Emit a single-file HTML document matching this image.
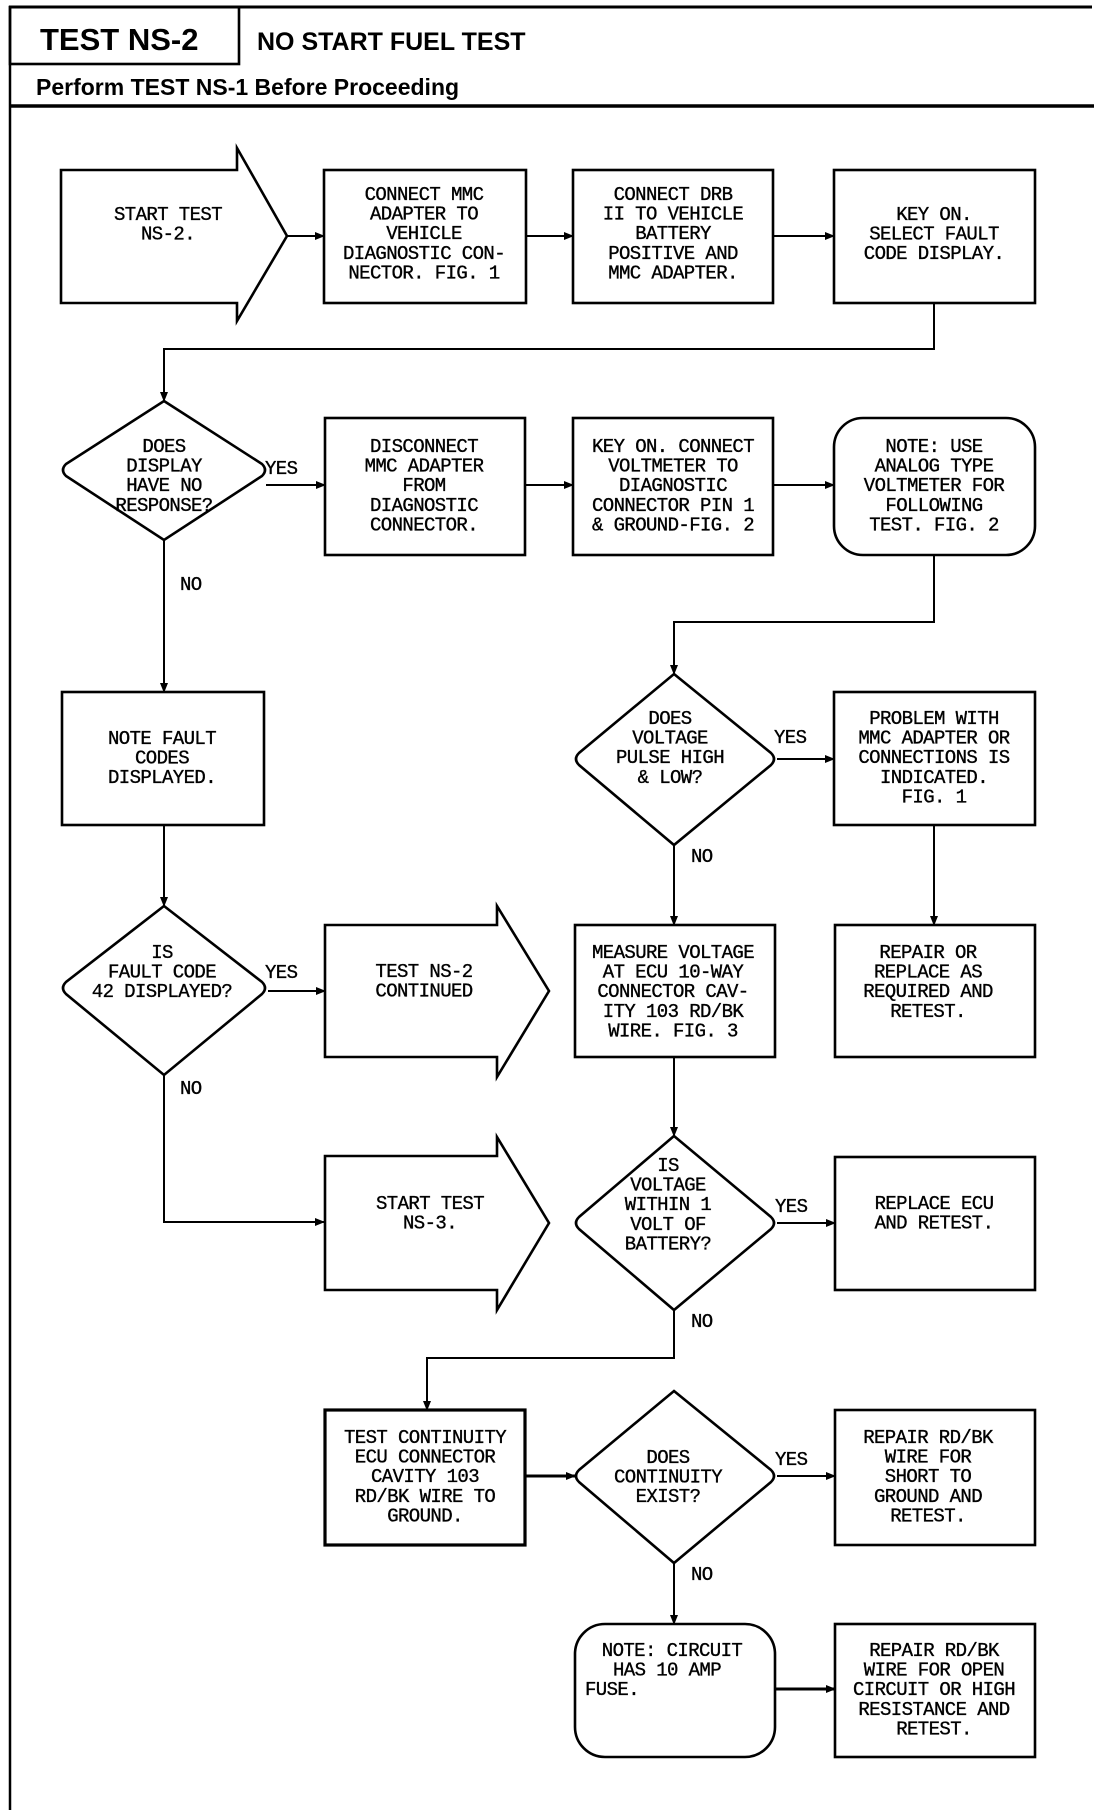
<!DOCTYPE html>
<html><head><meta charset="utf-8"><style>
html,body{margin:0;padding:0;background:#fff;}
svg{display:block;}
.t{font-family:"Liberation Mono",monospace;font-size:19px;fill:#000;text-anchor:middle;letter-spacing:-0.6px;stroke:#000;stroke-width:0.35;}
.l{font-family:"Liberation Mono",monospace;font-size:19px;fill:#000;letter-spacing:-0.6px;stroke:#000;stroke-width:0.35;}
.s{fill:none;stroke:#000;stroke-width:2.6;}
.c{fill:none;stroke:#000;stroke-width:2;}
</style></head><body>
<svg width="1104" height="1814" viewBox="0 0 1104 1814" xmlns="http://www.w3.org/2000/svg">
<defs><marker id="a" markerWidth="10" markerHeight="10" refX="9" refY="5" orient="auto" markerUnits="userSpaceOnUse"><path d="M0,1 L10,5 L0,9 Z" fill="#000"/></marker></defs>
<line x1="9" y1="7" x2="1092" y2="7" stroke="#000" stroke-width="3"/>
<line x1="10" y1="6" x2="10" y2="1810" stroke="#000" stroke-width="2.5"/>
<rect x="10" y="7" width="229" height="57" class="s"/>
<line x1="9" y1="106" x2="1094" y2="106" stroke="#000" stroke-width="3.5"/>
<text x="40" y="50" style="font-family:'Liberation Sans',sans-serif;font-weight:bold;font-size:31px">TEST NS-2</text>
<text x="257" y="50" style="font-family:'Liberation Sans',sans-serif;font-weight:bold;font-size:25px">NO START FUEL TEST</text>
<text x="36" y="95" style="font-family:'Liberation Sans',sans-serif;font-weight:bold;font-size:23px">Perform TEST NS-1 Before Proceeding</text>

<path d="M61,170 L237,170 L237,148 L287,236 L237,321 L237,303 L61,303 Z" class="s"/>
<text class="t" x="168" y="220">START TEST<tspan x="168" dy="19.6">NS-2.</tspan></text>
<rect x="324" y="170" width="202" height="133" class="s"/>
<text class="t" x="424" y="200">CONNECT MMC<tspan x="424" dy="19.6">ADAPTER TO</tspan><tspan x="424" dy="19.6">VEHICLE</tspan><tspan x="424" dy="19.6">DIAGNOSTIC CON-</tspan><tspan x="424" dy="19.6">NECTOR. FIG. 1</tspan></text>
<rect x="573" y="170" width="200" height="133" class="s"/>
<text class="t" x="673" y="200">CONNECT DRB<tspan x="673" dy="19.6">II TO VEHICLE</tspan><tspan x="673" dy="19.6">BATTERY</tspan><tspan x="673" dy="19.6">POSITIVE AND</tspan><tspan x="673" dy="19.6">MMC ADAPTER.</tspan></text>
<rect x="834" y="170" width="201" height="133" class="s"/>
<text class="t" x="934" y="220">KEY ON.<tspan x="934" dy="19.6">SELECT FAULT</tspan><tspan x="934" dy="19.6">CODE DISPLAY.</tspan></text>
<line x1="287" y1="236" x2="324" y2="236" class="c" marker-end="url(#a)"/>
<line x1="526" y1="236" x2="573" y2="236" class="c" marker-end="url(#a)"/>
<line x1="773" y1="236" x2="834" y2="236" class="c" marker-end="url(#a)"/>
<polyline points="934,303 934,349 164,349 164,401" class="c" marker-end="url(#a)"/>

<path d="M164,401 L262,464 Q268,470 262,476 L164,540 L66,476 Q60,470 66,464 Z" class="s"/>
<text class="t" x="164" y="452">DOES<tspan x="164" dy="19.6">DISPLAY</tspan><tspan x="164" dy="19.6">HAVE NO</tspan><tspan x="164" dy="19.6">RESPONSE?</tspan></text>
<text class="l" x="265" y="474">YES</text>
<line x1="266" y1="485" x2="325" y2="485" class="c" marker-end="url(#a)"/>
<rect x="325" y="418" width="200" height="137" class="s"/>
<text class="t" x="424" y="452">DISCONNECT<tspan x="424" dy="19.6">MMC ADAPTER</tspan><tspan x="424" dy="19.6">FROM</tspan><tspan x="424" dy="19.6">DIAGNOSTIC</tspan><tspan x="424" dy="19.6">CONNECTOR.</tspan></text>
<rect x="573" y="418" width="200" height="137" class="s"/>
<text class="t" x="673" y="452">KEY ON. CONNECT<tspan x="673" dy="19.6">VOLTMETER TO</tspan><tspan x="673" dy="19.6">DIAGNOSTIC</tspan><tspan x="673" dy="19.6">CONNECTOR PIN 1</tspan><tspan x="673" dy="19.6">&amp; GROUND-FIG. 2</tspan></text>
<rect x="834" y="418" width="201" height="137" rx="29" class="s"/>
<text class="t" x="934" y="452">NOTE: USE<tspan x="934" dy="19.6">ANALOG TYPE</tspan><tspan x="934" dy="19.6">VOLTMETER FOR</tspan><tspan x="934" dy="19.6">FOLLOWING</tspan><tspan x="934" dy="19.6">TEST. FIG. 2</tspan></text>
<line x1="525" y1="485" x2="573" y2="485" class="c" marker-end="url(#a)"/>
<line x1="773" y1="485" x2="834" y2="485" class="c" marker-end="url(#a)"/>
<text class="l" x="180" y="590">NO</text>
<line x1="164" y1="540" x2="164" y2="692" class="c" marker-end="url(#a)"/>
<polyline points="934,555 934,622 674,622 674,674" class="c" marker-end="url(#a)"/>

<rect x="62" y="692" width="202" height="133" class="s"/>
<text class="t" x="162" y="744">NOTE FAULT<tspan x="162" dy="19.6">CODES</tspan><tspan x="162" dy="19.6">DISPLAYED.</tspan></text>
<path d="M674,674 L771,753 Q777,759 771,765 L674,845 L579,765 Q573,759 579,753 Z" class="s"/>
<text class="t" x="670" y="724">DOES<tspan x="670" dy="19.6">VOLTAGE</tspan><tspan x="670" dy="19.6">PULSE HIGH</tspan><tspan x="670" dy="19.6">&amp; LOW?</tspan></text>
<text class="l" x="774" y="743">YES</text>
<line x1="777" y1="759" x2="834" y2="759" class="c" marker-end="url(#a)"/>
<rect x="834" y="692" width="201" height="133" class="s"/>
<text class="t" x="934" y="724">PROBLEM WITH<tspan x="934" dy="19.6">MMC ADAPTER OR</tspan><tspan x="934" dy="19.6">CONNECTIONS IS</tspan><tspan x="934" dy="19.6">INDICATED.</tspan><tspan x="934" dy="19.6">FIG. 1</tspan></text>
<text class="l" x="691" y="862">NO</text>
<line x1="674" y1="845" x2="674" y2="925" class="c" marker-end="url(#a)"/>
<line x1="164" y1="825" x2="164" y2="906" class="c" marker-end="url(#a)"/>
<line x1="934" y1="825" x2="934" y2="925" class="c" marker-end="url(#a)"/>

<path d="M164,906 L262,982 Q268,988 262,994 L164,1075 L66,994 Q60,988 66,982 Z" class="s"/>
<text class="t" x="162" y="958">IS<tspan x="162" dy="19.6">FAULT CODE</tspan><tspan x="162" dy="19.6">42 DISPLAYED?</tspan></text>
<text class="l" x="265" y="978">YES</text>
<line x1="268" y1="991" x2="325" y2="991" class="c" marker-end="url(#a)"/>
<path d="M325,925 L497,925 L497,906 L549,991 L497,1077 L497,1057 L325,1057 Z" class="s"/>
<text class="t" x="424" y="977">TEST NS-2<tspan x="424" dy="19.6">CONTINUED</tspan></text>
<rect x="575" y="925" width="200" height="132" class="s"/>
<text class="t" x="673" y="958">MEASURE VOLTAGE<tspan x="673" dy="19.6">AT ECU 10-WAY</tspan><tspan x="673" dy="19.6">CONNECTOR CAV-</tspan><tspan x="673" dy="19.6">ITY 103 RD/BK</tspan><tspan x="673" dy="19.6">WIRE. FIG. 3</tspan></text>
<rect x="835" y="925" width="200" height="132" class="s"/>
<text class="t" x="928" y="958">REPAIR OR<tspan x="928" dy="19.6">REPLACE AS</tspan><tspan x="928" dy="19.6">REQUIRED AND</tspan><tspan x="928" dy="19.6">RETEST.</tspan></text>
<text class="l" x="180" y="1094">NO</text>
<polyline points="164,1075 164,1222 324,1222" class="c" marker-end="url(#a)"/>
<line x1="674" y1="1057" x2="674" y2="1136" class="c" marker-end="url(#a)"/>

<path d="M325,1156 L497,1156 L497,1137 L549,1223 L497,1310 L497,1290 L325,1290 Z" class="s"/>
<text class="t" x="430" y="1209">START TEST<tspan x="430" dy="19.6">NS-3.</tspan></text>
<path d="M674,1136 L771,1217 Q777,1223 771,1229 L674,1310 L579,1229 Q573,1223 579,1217 Z" class="s"/>
<text class="t" x="668" y="1171">IS<tspan x="668" dy="19.6">VOLTAGE</tspan><tspan x="668" dy="19.6">WITHIN 1</tspan><tspan x="668" dy="19.6">VOLT OF</tspan><tspan x="668" dy="19.6">BATTERY?</tspan></text>
<text class="l" x="775" y="1212">YES</text>
<line x1="777" y1="1223" x2="835" y2="1223" class="c" marker-end="url(#a)"/>
<rect x="835" y="1157" width="200" height="133" class="s"/>
<text class="t" x="934" y="1209">REPLACE ECU<tspan x="934" dy="19.6">AND RETEST.</tspan></text>
<text class="l" x="691" y="1327">NO</text>
<polyline points="674,1310 674,1358 427,1358 427,1410" class="c" marker-end="url(#a)"/>

<rect x="325" y="1410" width="200" height="135" class="s" style="stroke-width:3.2"/>
<text class="t" x="425" y="1443">TEST CONTINUITY<tspan x="425" dy="19.6">ECU CONNECTOR</tspan><tspan x="425" dy="19.6">CAVITY 103</tspan><tspan x="425" dy="19.6">RD/BK WIRE TO</tspan><tspan x="425" dy="19.6">GROUND.</tspan></text>
<line x1="525" y1="1476" x2="575" y2="1476" class="c" style="stroke-width:3" marker-end="url(#a)"/>
<path d="M674,1391 L771,1470 Q777,1476 771,1482 L674,1563 L579,1482 Q573,1476 579,1470 Z" class="s"/>
<text class="t" x="668" y="1463">DOES<tspan x="668" dy="19.6">CONTINUITY</tspan><tspan x="668" dy="19.6">EXIST?</tspan></text>
<text class="l" x="775" y="1465">YES</text>
<line x1="777" y1="1476" x2="835" y2="1476" class="c" marker-end="url(#a)"/>
<rect x="835" y="1410" width="200" height="135" class="s"/>
<text class="t" x="928" y="1443">REPAIR RD/BK<tspan x="928" dy="19.6">WIRE FOR</tspan><tspan x="928" dy="19.6">SHORT TO</tspan><tspan x="928" dy="19.6">GROUND AND</tspan><tspan x="928" dy="19.6">RETEST.</tspan></text>
<text class="l" x="691" y="1580">NO</text>
<line x1="674" y1="1563" x2="674" y2="1624" class="c" marker-end="url(#a)"/>

<rect x="575" y="1624" width="200" height="133" rx="30" class="s"/>
<text class="t" x="672" y="1656">NOTE: CIRCUIT<tspan x="667" dy="19.6">HAS 10 AMP</tspan></text>
<text class="l" x="585" y="1695">FUSE.</text>
<line x1="775" y1="1689" x2="835" y2="1689" class="c" style="stroke-width:3" marker-end="url(#a)"/>
<rect x="835" y="1624" width="200" height="133" class="s"/>
<text class="t" x="934" y="1656">REPAIR RD/BK<tspan x="934" dy="19.6">WIRE FOR OPEN</tspan><tspan x="934" dy="19.6">CIRCUIT OR HIGH</tspan><tspan x="934" dy="19.6">RESISTANCE AND</tspan><tspan x="934" dy="19.6">RETEST.</tspan></text>
</svg>
</body></html>
